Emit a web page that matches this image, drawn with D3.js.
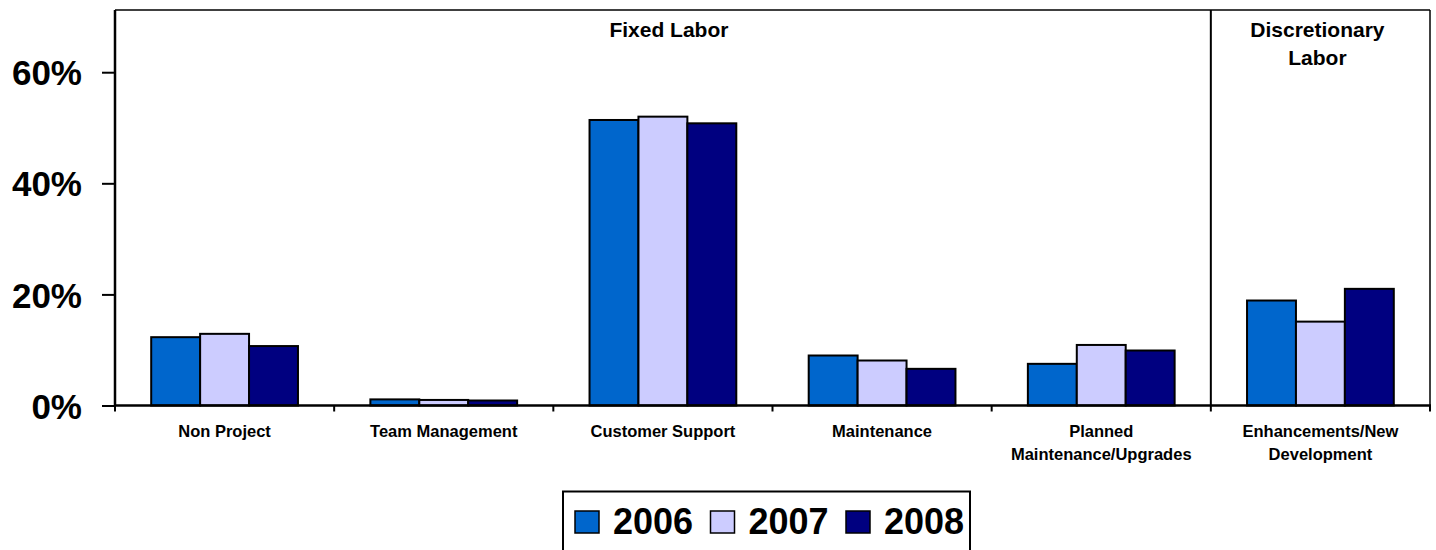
<!DOCTYPE html>
<html>
<head>
<meta charset="utf-8">
<script src="https://cdn.jsdelivr.net/npm/d3@7"></script>
<style>
  html, body { margin: 0; padding: 0; background: #fff; }
  svg { display: block; font-family: "Liberation Sans", Arial, sans-serif; font-weight: bold; }
</style>
</head>
<body>
<svg id="chart" width="1436" height="550"></svg>
<script>
// ---- data ----
const categories = [
  ["Non Project"],
  ["Team Management"],
  ["Customer Support"],
  ["Maintenance"],
  ["Planned", "Maintenance/Upgrades"],
  ["Enhancements/New", "Development"]
];
const years = ["2006", "2007", "2008"];
const values2006 = [0.123, 0.011, 0.514, 0.090, 0.075, 0.189];
const values2007 = [0.129, 0.010, 0.520, 0.081, 0.109, 0.151];
const values2008 = [0.107, 0.009, 0.508, 0.066, 0.099, 0.210];
const yTicks = [0, 0.2, 0.4, 0.6];
const groups = [
  { label: ["Fixed Labor"], from: 0, to: 4 },
  { label: ["Discretionary", "Labor"], from: 5, to: 5 }
];
const colors = ["#0066CC", "#CCCCFF", "#000080"];

// ---- layout ----
const svg = d3.select("#chart");
const mLeft = 115, mRight = 1430, mTop = 10, mBottom = 405.5;
const catIdx = categories.map((d, i) => i);
const seriesValues = [values2006, values2007, values2008];

const x = d3.scaleBand().domain(catIdx).range([mLeft, mRight]).padding(0);
const xInner = d3.scaleBand().domain(years).range([0, x.bandwidth()]).paddingInner(0).paddingOuter(0.74);
const y = d3.scaleLinear().domain([0, 0.712]).range([mBottom, mTop]);

// bars
catIdx.forEach(ci => {
  years.forEach((yr, si) => {
    const v = seriesValues[si][ci];
    svg.append("rect")
      .attr("x", x(ci) + xInner(yr))
      .attr("y", y(v))
      .attr("width", xInner.bandwidth())
      .attr("height", y(0) - y(v))
      .attr("fill", colors[si])
      .attr("stroke", "#000")
      .attr("stroke-width", 2);
  });
});

// frame: top and right border
svg.append("line").attr("x1", mLeft).attr("x2", mRight).attr("y1", mTop).attr("y2", mTop)
  .attr("stroke", "#000").attr("stroke-width", 1.5);
svg.append("line").attr("x1", mRight).attr("x2", mRight).attr("y1", mTop).attr("y2", mBottom)
  .attr("stroke", "#000").attr("stroke-width", 1.5);

// group divider
groups.slice(1).forEach(g => {
  const gx = x(g.from);
  svg.append("line").attr("x1", gx).attr("x2", gx).attr("y1", mTop).attr("y2", mBottom)
    .attr("stroke", "#000").attr("stroke-width", 2);
});

// y axis
const yAxis = d3.axisLeft(y).tickValues(yTicks).tickFormat(d3.format(".0%")).tickSize(13).tickPadding(20);
const gy = svg.append("g").attr("transform", `translate(${mLeft},0)`).call(yAxis);
gy.select(".domain").attr("d", `M0,${mTop}V${mBottom}`).attr("stroke", "#000").attr("stroke-width", 2.5);
gy.selectAll(".tick line").attr("stroke", "#000").attr("stroke-width", 2);
gy.selectAll(".tick text").attr("font-size", 35).attr("font-weight", "bold")
  .attr("font-family", "'Liberation Sans', Arial, sans-serif").attr("fill", "#000")
  .attr("dy", "0.36em");

// x axis line + boundary ticks
svg.append("line").attr("x1", mLeft).attr("x2", mRight + 1).attr("y1", mBottom).attr("y2", mBottom)
  .attr("stroke", "#000").attr("stroke-width", 2.5);
const boundaries = catIdx.map(i => x(i)).concat([x(catIdx.length - 1) + x.bandwidth()]);
boundaries.forEach(bx => {
  svg.append("line").attr("x1", bx).attr("x2", bx).attr("y1", mBottom).attr("y2", mBottom + 6)
    .attr("stroke", "#000").attr("stroke-width", 2);
});

// category labels
catIdx.forEach(ci => {
  const t = svg.append("text")
    .attr("text-anchor", "middle")
    .attr("font-size", 16.5)
    .attr("fill", "#000");
  categories[ci].forEach((line, li) => {
    t.append("tspan").attr("x", x(ci) + x.bandwidth() / 2).attr("y", 437 + li * 23).text(line);
  });
});

// group headers
groups.forEach((g, gi) => {
  const cx = (x(g.from) + x(g.to) + x.bandwidth()) / 2 + (gi === 0 ? 6 : -3);
  const t = svg.append("text").attr("text-anchor", "middle").attr("font-size", 21).attr("fill", "#000");
  g.label.forEach((line, li) => {
    t.append("tspan").attr("x", cx).attr("y", 37 + li * 28).text(line);
  });
});

// legend
const legX = 563, legY = 491.5;
svg.append("rect").attr("x", legX).attr("y", legY).attr("width", 407).attr("height", 62)
  .attr("fill", "#fff").attr("stroke", "#000").attr("stroke-width", 2);
years.forEach((yr, si) => {
  const ex = 575 + si * 135.5;
  svg.append("rect").attr("x", ex).attr("y", 511).attr("width", 24).attr("height", 22)
    .attr("fill", colors[si]).attr("stroke", "#000").attr("stroke-width", 1.5);
  svg.append("text").attr("x", ex + 38).attr("y", 534).attr("font-size", 36).attr("fill", "#000").text(yr);
});
</script>
</body>
</html>
